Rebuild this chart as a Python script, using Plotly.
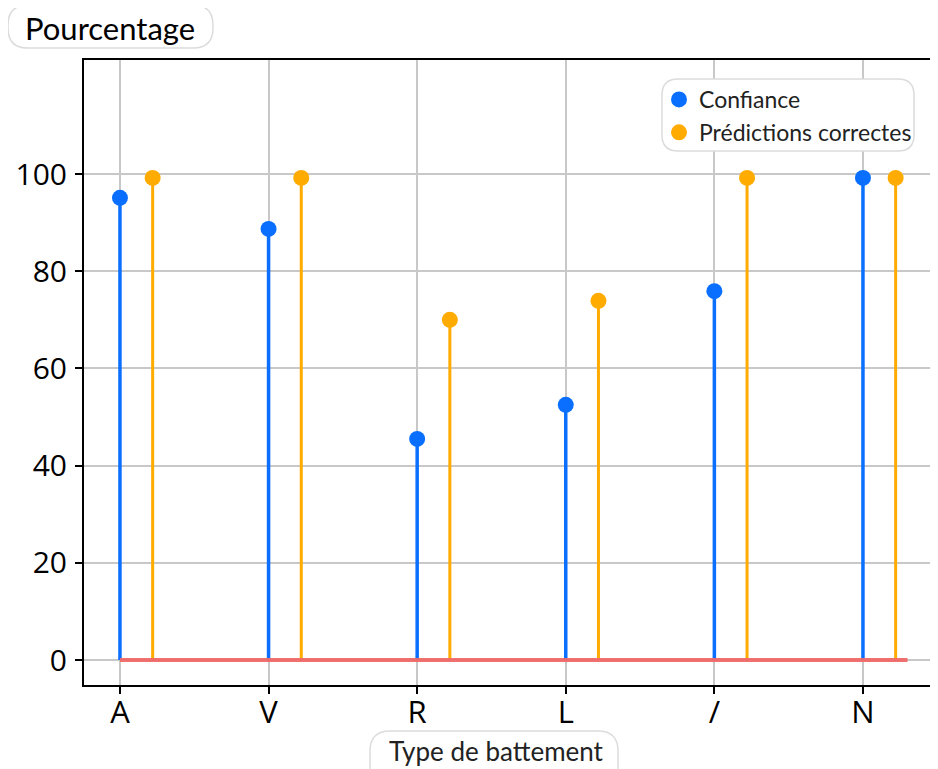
"""Lollipop chart: confiance vs predictions correctes par type de battement"""

import plotly.graph_objects as go

categories = ["A", "V", "R", "L", "/", "N"]
confiance = [95.1, 88.7, 45.5, 52.5, 75.9, 99.2]
predictions = [99.2, 99.2, 70.0, 73.9, 99.2, 99.2]

BLUE = "#0a6fff"
ORANGE = "#ffab00"

# plot area in reference pixels (page body adds an 8px margin)
OFF = 8
L, T, W, H = 84, 60, 854, 625


def px(x):
    return (x - L) / W


def py(y):
    return (T + H - y) / H


def roundedBox(x0, y0, x1, y1, r):
    """rounded rectangle path in paper coords from pixel box"""
    def p(x, y):
        return f"{px(x):.5f},{py(y):.5f}"

    path = (
        f"M {p(x0 + r, y0)} L {p(x1 - r, y0)} Q {p(x1, y0)} {p(x1, y0 + r)} "
        f"L {p(x1, y1 - r)} Q {p(x1, y1)} {p(x1 - r, y1)} "
        f"L {p(x0 + r, y1)} Q {p(x0, y1)} {p(x0, y1 - r)} "
        f"L {p(x0, y0 + r)} Q {p(x0, y0)} {p(x0 + r, y0)} Z"
    )
    return dict(
        type="path", xref="paper", yref="paper", path=path,
        fillcolor="white", line=dict(color="#dcdcdc", width=1.5), layer="above",
    )


def stems(xs, ys):
    sx, sy = [], []
    for x, y in zip(xs, ys):
        sx += [x, x, None]
        sy += [0, y, None]
    return sx, sy


xBlue = list(range(len(categories)))
xOrange = [i + 0.22 for i in xBlue]

fig = go.Figure()
for xs, ys, color, width in [
    (xBlue, confiance, BLUE, 3.5),
    (xOrange, predictions, ORANGE, 3),
]:
    sx, sy = stems(xs, ys)
    fig.add_trace(
        go.Scatter(x=sx, y=sy, mode="lines", line=dict(color=color, width=width),
                   showlegend=False, hoverinfo="skip")
    )

fig.add_trace(
    go.Scatter(x=xBlue, y=confiance, mode="markers", name="Confiance",
               marker=dict(color=BLUE, size=16))
)
fig.add_trace(
    go.Scatter(x=xOrange, y=predictions, mode="markers", name="Prédictions correctes",
               marker=dict(color=ORANGE, size=16))
)

shapes = [
    # baseline
    dict(type="line", xref="x", yref="y", x0=0, x1=len(categories) - 1 + 0.3,
         y0=0, y1=0, line=dict(color="rgba(240,105,105,0.95)", width=4), layer="above"),
    roundedBox(8, 5, 213, 48, 20),
    roundedBox(662, 79, 914, 151, 16),
    roundedBox(370, 731, 618, 790, 20),
]

fig.update_layout(
    width=938 - OFF,
    height=769 - OFF,
    margin=dict(l=L - OFF, r=0, t=T - OFF, b=769 - T - H),
    paper_bgcolor="white",
    plot_bgcolor="white",
    font=dict(family="Open Sans", color="black"),
    shapes=shapes,
    showlegend=True,
    legend=dict(
        x=px(659), y=py(78), xanchor="left", yanchor="top",
        bgcolor="rgba(0,0,0,0)", font=dict(family="Lato", size=23, color="#222"),
        tracegroupgap=0,
    ),
    annotations=[
        dict(text="Pourcentage", xref="paper", yref="paper", x=px(110), y=py(28),
             xanchor="center", yanchor="middle", showarrow=False,
             font=dict(family="Lato", size=31, color="black")),
        dict(text="Type de battement", xref="paper", yref="paper", x=px(496), y=py(751),
             xanchor="center", yanchor="middle", showarrow=False,
             font=dict(family="Lato", size=26, color="#222")),
    ],
)

fig.update_xaxes(
    range=[-0.242, 5.505],
    tickvals=xBlue,
    ticktext=categories,
    showgrid=True,
    gridcolor="#c8c8c8",
    gridwidth=2,
    zeroline=False,
    showline=True,
    mirror=True,
    linecolor="black",
    linewidth=2,
    ticks="outside",
    ticklen=7,
    tickwidth=2,
    tickcolor="black",
    tickfont=dict(size=31),
    ticklabelstandoff=-8,
)
fig.update_yaxes(
    range=[-5.14, 123.46],
    tickvals=[0, 20, 40, 60, 80, 100],
    showgrid=True,
    gridcolor="#c8c8c8",
    gridwidth=2,
    zeroline=False,
    showline=True,
    linecolor="black",
    linewidth=2,
    ticks="outside",
    ticklen=7,
    tickwidth=2,
    tickcolor="black",
    tickfont=dict(size=30),
    ticklabelstandoff=2,
)

fig.write_html("out.html")
